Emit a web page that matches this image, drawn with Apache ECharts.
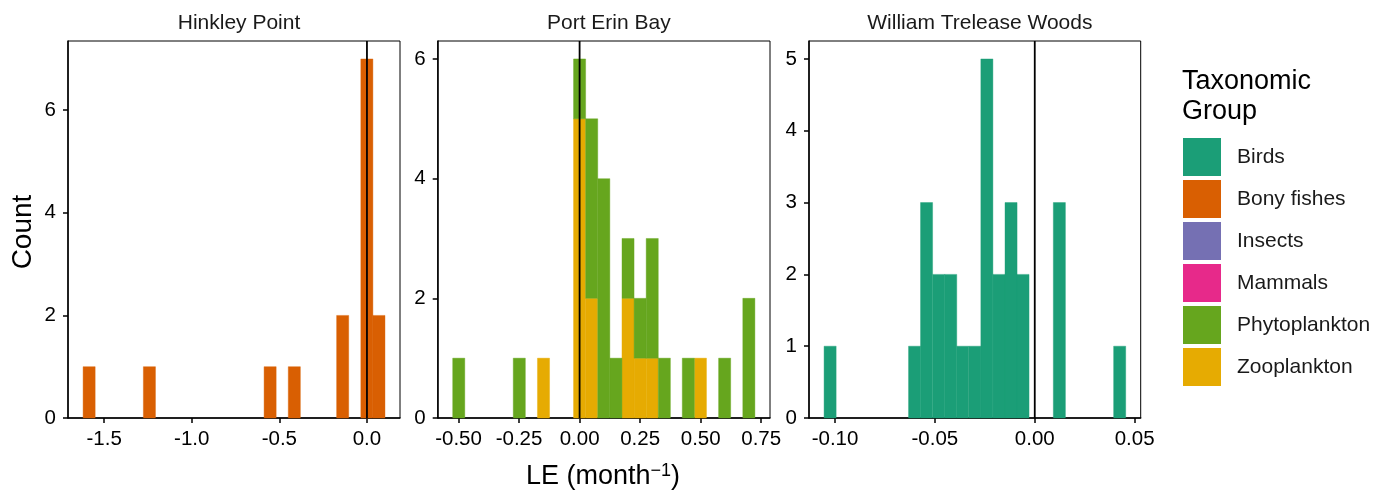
<!DOCTYPE html>
<html><head><meta charset="utf-8">
<script src="https://cdn.jsdelivr.net/npm/echarts@6/dist/echarts.min.js"></script>
<style>html,body{margin:0;padding:0;background:#fff}#c{width:1391px;height:497px}</style>
</head><body><div id="c"></div>
<script>
// ---------------- DATA ----------------
const groups = ['Birds', 'Bony fishes', 'Insects', 'Mammals', 'Phytoplankton', 'Zooplankton'];
const groupColors = ['#1B9E77', '#D95F02', '#7570B3', '#E7298A', '#66A61E', '#E6AB02'];
const panelTitles = ['Hinkley Point', 'Port Erin Bay', 'William Trelease Woods'];

// Hinkley Point – Bony fishes (histogram, 25 bins)
const hpBinWidth = 0.0689;
const hpFirstEdge = -1.620;
const hpBinLeft = [-1.620, -1.276, -0.587, -0.449, -0.173, -0.035, 0.034];
const hpBonyFishes = [1, 1, 1, 1, 2, 7, 2];

// Port Erin Bay – Phytoplankton and Zooplankton (stacked histogram, 25 bins)
const pebBinWidth = 0.0499;
const pebFirstEdge = -0.5236;
const pebBinLeft = [-0.524, -0.274, -0.174, -0.025, 0.025, 0.075, 0.125, 0.175, 0.225, 0.275, 0.325, 0.424, 0.474, 0.574, 0.674];
const pebPhytoplankton = [1, 1, 0, 1, 3, 4, 1, 1, 1, 2, 1, 1, 0, 1, 2];
const pebZooplankton = [0, 0, 1, 5, 2, 0, 0, 2, 1, 1, 0, 0, 1, 0, 0];

// William Trelease Woods – Birds (histogram, 25 bins)
const wtwBinWidth = 0.00604;
const wtwFirstEdge = -0.1055;
const wtwBinLeft = [-0.1055, -0.0632, -0.0572, -0.0511, -0.0451, -0.0391, -0.0330, -0.0270, -0.0209, -0.0149, -0.0089, 0.0093, 0.0395];
const wtwBirds = [1, 1, 3, 2, 2, 1, 1, 5, 2, 3, 2, 3, 1];

const nBins = 25;
const xTicks = [[-1.5, -1.0, -0.5, 0.0], [-0.50, -0.25, 0.00, 0.25, 0.50, 0.75], [-0.10, -0.05, 0.00, 0.05]];
const xTickDecimals = [1, 2, 2];
const yTicks = [[0, 2, 4, 6], [0, 2, 4, 6], [0, 1, 2, 3, 4, 5]];

// ---------------- BUILD ----------------
const FONT = '"Liberation Sans", Arial, sans-serif';
const colorOf = n => groupColors[groups.indexOf(n)];

function rects(binLeft, w, counts, base) {
  const out = [];
  counts.forEach((c, i) => {
    if (c > 0) {
      const b = base ? base[i] : 0;
      out.push([binLeft[i], binLeft[i] + w, b, b + c]);
    }
  });
  return out;
}

function histSeries(idx, name, data) {
  const color = colorOf(name);
  return {
    type: 'custom', name: name, xAxisIndex: idx, yAxisIndex: idx, z: 2,
    itemStyle: { color: color },
    encode: { x: [0, 1], y: [2, 3] },
    data: data,
    renderItem: function (params, api) {
      const p0 = api.coord([api.value(0), api.value(3)]);
      const p1 = api.coord([api.value(1), api.value(2)]);
      return { type: 'rect', shape: { x: p0[0], y: p0[1], width: p1[0] - p0[0], height: p1[1] - p0[1] },
               style: { fill: color, stroke: color, lineWidth: 0.4 } };
    }
  };
}

const panels = [
  { first: hpFirstEdge, w: hpBinWidth, counts: [hpBonyFishes] },
  { first: pebFirstEdge, w: pebBinWidth, counts: [pebPhytoplankton.map((v, i) => v + pebZooplankton[i])] },
  { first: wtwFirstEdge, w: wtwBinWidth, counts: [wtwBirds] }
];
const xRanges = panels.map(p => {
  const lo = p.first, hi = p.first + nBins * p.w, e = 0.05 * (hi - lo);
  return [lo - e, hi + e];
});
const yMax = panels.map(p => 1.05 * Math.max.apply(null, p.counts[0]));

const gridBoxes = [
  { left: 68, top: 41, width: 332, height: 377 },
  { left: 437.7, top: 41, width: 332.3, height: 377 },
  { left: 809, top: 41, width: 331.7, height: 377 }
];

const grid = gridBoxes.map(g => Object.assign({ show: true, borderColor: '#000', borderWidth: 1, backgroundColor: 'transparent' }, g));

const xAxis = [0, 1, 2].map(i => ({
  type: 'value', gridIndex: i, min: xRanges[i][0], max: xRanges[i][1],
  axisLine: { show: true, onZero: false, lineStyle: { color: '#000', width: 1.5 } },
  axisTick: { show: true, length: 5, customValues: xTicks[i], lineStyle: { color: '#000', width: 1.5 } },
  axisLabel: { show: true, customValues: xTicks[i], margin: 11, color: '#000', fontSize: 20.5, fontFamily: FONT,
               formatter: v => v.toFixed(xTickDecimals[i]) },
  splitLine: { show: false }
}));
const yAxis = [0, 1, 2].map(i => ({
  type: 'value', gridIndex: i, min: 0, max: yMax[i],
  axisLine: { show: true, onZero: false, lineStyle: { color: '#000', width: 1.5 } },
  axisTick: { show: true, length: 5, customValues: yTicks[i], lineStyle: { color: '#000', width: 1.5 } },
  axisLabel: { show: true, customValues: yTicks[i], margin: 12, color: '#000', fontSize: 20.5, fontFamily: FONT,
               formatter: v => String(v) },
  splitLine: { show: false }
}));

const series = [
  histSeries(0, 'Bony fishes', rects(hpBinLeft, hpBinWidth, hpBonyFishes)),
  histSeries(1, 'Zooplankton', rects(pebBinLeft, pebBinWidth, pebZooplankton)),
  histSeries(1, 'Phytoplankton', rects(pebBinLeft, pebBinWidth, pebPhytoplankton, pebZooplankton)),
  histSeries(2, 'Birds', rects(wtwBinLeft, wtwBinWidth, wtwBirds)),
  histSeries(0, 'Insects', []),
  histSeries(0, 'Mammals', [])
];
// zero reference lines
[0, 1, 2].forEach(i => {
  series.push({
    type: 'custom', name: 'zero' + i, xAxisIndex: i, yAxisIndex: i, z: 5, silent: true,
    data: [[0, 0, yMax[i]]],
    renderItem: function (params, api) {
      const a = api.coord([api.value(0), api.value(1)]);
      const b = api.coord([api.value(0), api.value(2)]);
      return { type: 'line', shape: { x1: a[0], y1: a[1], x2: b[0], y2: b[1] }, style: { stroke: '#000', lineWidth: 1.8 } };
    }
  });
});

const titles = panelTitles.map((t, i) => ({
  text: t, left: gridBoxes[i].left + gridBoxes[i].width / 2, top: 8, textAlign: 'center',
  textStyle: { fontSize: 21, fontWeight: 'normal', color: '#1a1a1a', fontFamily: FONT }
}));

const option = {
  animation: false,
  backgroundColor: '#fff',
  title: titles,
  grid: grid, xAxis: xAxis, yAxis: yAxis, series: series,
  legend: {
    orient: 'vertical', left: 1183, top: 138, padding: 0, itemWidth: 38, itemHeight: 38, itemGap: 4,
    selectedMode: false,
    data: groups.map((g, i) => ({ name: g, icon: 'rect', itemStyle: { color: groupColors[i] } })),
    textStyle: { fontSize: 21, color: '#1a1a1a', fontFamily: FONT, padding: [0, 0, 0, 11] }
  },
  graphic: [
    { type: 'text', left: 1182, top: 67, style: { text: 'Taxonomic\nGroup', fontSize: 27, lineHeight: 30, fill: '#000', fontFamily: FONT } },
    { type: 'text', x: 23, y: 232, rotation: Math.PI / 2,
      style: { text: 'Count', fontSize: 28, fill: '#000', fontFamily: FONT, textAlign: 'center', textVerticalAlign: 'middle' } },
    { type: 'text', x: 603, y: 477,
      style: { text: 'LE (month{sup|\u22121})', fontSize: 27, fill: '#000', fontFamily: FONT, textAlign: 'center', textVerticalAlign: 'middle',
               rich: { sup: { fontSize: 18, fontFamily: FONT, fill: '#000', verticalAlign: 'top', padding: [0, 0, 12, 0] } } } }
  ]
};

const chart = echarts.init(document.getElementById('c'), null, { renderer: 'canvas' });
chart.setOption(option);
</script></body></html>
